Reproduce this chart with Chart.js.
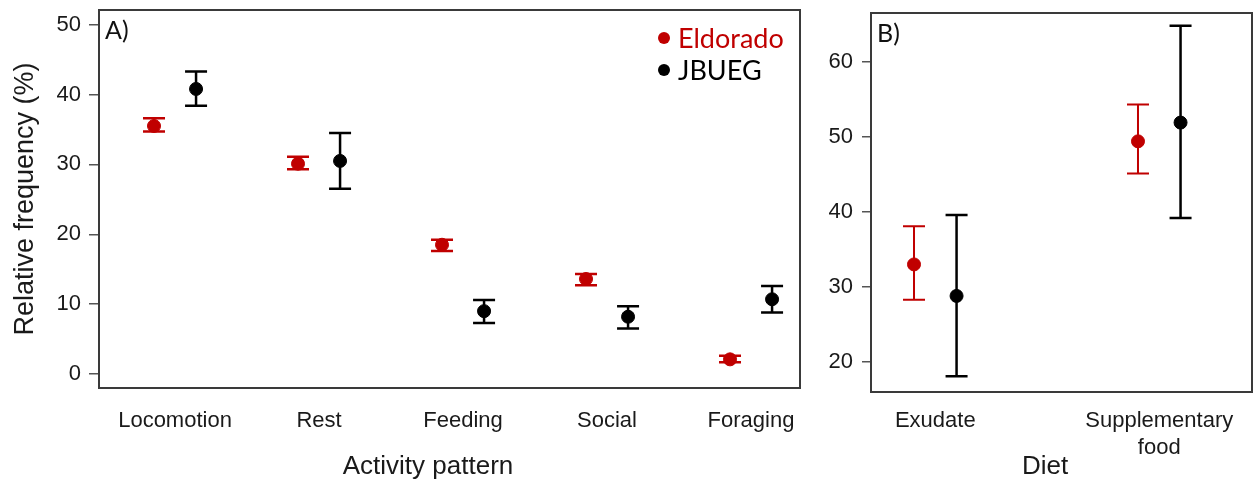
<!DOCTYPE html>
<html>
<head>
<meta charset="utf-8">
<script src="https://cdn.jsdelivr.net/npm/chart.js@4.4.1/dist/chart.umd.min.js"></script>
<style>
  body { margin: 0; background: #fff; }
  .panel { position: absolute; top: 0; }
</style>
</head>
<body>
<div class="panel" style="left:0"><canvas id="activityChart" width="810" height="490"></canvas></div>
<div class="panel" style="left:810px"><canvas id="dietChart" width="444" height="490"></canvas></div>
<script>
// Panel A - activity pattern
const activities = ['Locomotion', 'Rest', 'Feeding', 'Social', 'Foraging'];
const eldActMean = [35.5, 30.1, 18.5, 13.6, 2.1];
const eldActLow = [34.7, 29.3, 17.6, 12.7, 1.7];
const eldActHigh = [36.6, 31.1, 19.2, 14.3, 2.6];
const jbuActMean = [40.8, 30.5, 9.0, 8.2, 10.7];
const jbuActLow = [38.4, 26.5, 7.3, 6.5, 8.8];
const jbuActHigh = [43.3, 34.5, 10.6, 9.7, 12.6];
const actTicks = [0, 10, 20, 30, 40, 50];

// Panel B - diet
const diets = ['Exudate', ['Supplementary', 'food']];
const eldDietMean = [33.0, 49.4];
const eldDietLow = [28.3, 45.1];
const eldDietHigh = [38.1, 54.3];
const jbuDietMean = [28.8, 51.9];
const jbuDietLow = [18.1, 39.2];
const jbuDietHigh = [39.6, 64.8];
const dietTicks = [20, 30, 40, 50, 60];

const RED = '#c00000';
const BLACK = '#000000';
const ARIAL = "'Liberation Sans', Arial, sans-serif";
const CALIBRI = "Lato, 'Open Sans', sans-serif";

Chart.defaults.font.family = ARIAL;
Chart.defaults.color = '#1a1a1a';

function points(means, dodge) {
    return means.map((v, i) => ({ x: i + 1 + dodge, y: v }));
}

// error bars + frame box + panel texts
const errorBars = {
    id: 'errorBars',
    beforeDatasetsDraw(chart) {
        const ctx = chart.ctx;
        const y = chart.scales.y;
        chart.data.datasets.forEach((ds, di) => {
            const meta = chart.getDatasetMeta(di);
            ctx.save();
            ctx.strokeStyle = ds.borderColor;
            ctx.lineWidth = ds.errWidth;
            meta.data.forEach((pt, i) => {
                const yl = y.getPixelForValue(ds.errLow[i]);
                const yh = y.getPixelForValue(ds.errHigh[i]);
                ctx.beginPath();
                ctx.moveTo(pt.x, yl); ctx.lineTo(pt.x, yh);
                ctx.moveTo(pt.x - 11, yl); ctx.lineTo(pt.x + 11, yl);
                ctx.moveTo(pt.x - 11, yh); ctx.lineTo(pt.x + 11, yh);
                ctx.stroke();
            });
            ctx.restore();
        });
    },
    afterDraw(chart, args, opts) {
        const ctx = chart.ctx;
        const a = chart.chartArea;
        ctx.save();
        ctx.strokeStyle = '#3a3a3a';
        ctx.lineWidth = 2;
        ctx.strokeRect(a.left, a.top, a.right - a.left, a.bottom - a.top);
        // panel tag
        ctx.fillStyle = '#111';
        ctx.font = '25px ' + CALIBRI;
        ctx.textBaseline = 'middle';
        ctx.textAlign = 'left';
        ctx.fillText(opts.tag, a.left + 6, a.top + 21);
        // x axis title
        ctx.font = '26px ' + ARIAL;
        ctx.textAlign = 'center';
        ctx.fillStyle = '#1a1a1a';
        ctx.fillText(opts.xTitle, opts.xTitleX, 467);
        // legend
        if (opts.legend) {
            ctx.font = '27px ' + CALIBRI;
            chart.data.datasets.forEach((ds, i) => {
                const ly = 38 + i * 32;
                ctx.fillStyle = ds.borderColor;
                ctx.beginPath();
                ctx.arc(664, ly, 6, 0, Math.PI * 2);
                ctx.fill();
                ctx.textAlign = 'left';
                ctx.fillText(ds.label, 678, ly + 1);
            });
        }
        ctx.restore();
    }
};

function makeOptions(cfg) {
    return {
        responsive: false,
        animation: false,
        layout: { padding: cfg.padding, autoPadding: false },
        plugins: {
            legend: { display: false },
            tooltip: { enabled: false },
            errorBars: { tag: cfg.tag, xTitle: cfg.xTitle, xTitleX: cfg.xTitleX, legend: cfg.legend }
        },
        scales: {
            x: {
                type: 'linear',
                min: cfg.xMin,
                max: cfg.xMax,
                grid: { display: false, drawTicks: false },
                border: { display: false },
                afterBuildTicks: s => { s.ticks = cfg.cats.map((c, i) => ({ value: i + 1 })); },
                afterFit: s => { s.height = cfg.xHeight; s.paddingLeft = 0; s.paddingRight = 0; },
                ticks: {
                    padding: cfg.xPad,
                    maxRotation: 0,
                    autoSkip: false,
                    font: { size: 22, lineHeight: 1.22 },
                    callback: v => cfg.cats[v - 1]
                }
            },
            y: {
                min: cfg.yMin,
                max: cfg.yMax,
                grid: { drawOnChartArea: false, drawTicks: true, tickLength: cfg.tickLen, color: '#555', lineWidth: 1.5 },
                border: { display: false },
                afterBuildTicks: s => { s.ticks = cfg.yTicks.map(v => ({ value: v })); },
                afterFit: s => { s.width = cfg.yWidth; s.paddingTop = 0; s.paddingBottom = 0; },
                ticks: { padding: cfg.tickPad, font: { size: 22 } },
                title: cfg.yTitle ? {
                    display: true,
                    text: cfg.yTitle,
                    font: { size: 27 },
                    padding: { top: 9, bottom: 0 }
                } : { display: false }
            }
        }
    };
}

new Chart(document.getElementById('activityChart'), {
    type: 'scatter',
    data: {
        datasets: [{
            label: 'Eldorado',
            data: points(eldActMean, -0.146),
            errLow: eldActLow, errHigh: eldActHigh, errWidth: 2.5,
            borderColor: RED, backgroundColor: RED, pointRadius: 6.5
        }, {
            label: 'JBUEG',
            data: points(jbuActMean, 0.146),
            errLow: jbuActLow, errHigh: jbuActHigh, errWidth: 2.5,
            borderColor: BLACK, backgroundColor: BLACK, pointRadius: 6.5
        }]
    },
    options: makeOptions({
        padding: { top: 10, right: 10, left: 0, bottom: 0 },
        cats: activities, xMin: 0.472, xMax: 5.34, xHeight: 102, xPad: 20,
        yMin: -2, yMax: 52.1, yTicks: actTicks, yWidth: 99, tickLen: 10, tickPad: 8,
        yTitle: 'Relative frequency (%)',
        tag: 'A)', xTitle: 'Activity pattern', xTitleX: 428, legend: true
    }),
    plugins: [errorBars]
});

new Chart(document.getElementById('dietChart'), {
    type: 'scatter',
    data: {
        datasets: [{
            label: 'Eldorado',
            data: points(eldDietMean, -0.095),
            errLow: eldDietLow, errHigh: eldDietHigh, errWidth: 2,
            borderColor: RED, backgroundColor: RED, pointRadius: 6.5
        }, {
            label: 'JBUEG',
            data: points(jbuDietMean, 0.095),
            errLow: jbuDietLow, errHigh: jbuDietHigh, errWidth: 2.5,
            borderColor: BLACK, backgroundColor: BLACK, pointRadius: 6.5
        }]
    },
    options: makeOptions({
        padding: { top: 13, right: 2, left: 0, bottom: 0 },
        cats: diets, xMin: 0.713, xMax: 2.414, xHeight: 98, xPad: 16,
        yMin: 16, yMax: 66.5, yTicks: dietTicks, yWidth: 61, tickLen: 9, tickPad: 9,
        yTitle: null,
        tag: 'B)', xTitle: 'Diet', xTitleX: 235, legend: false
    }),
    plugins: [errorBars]
});
</script>
</body>
</html>
